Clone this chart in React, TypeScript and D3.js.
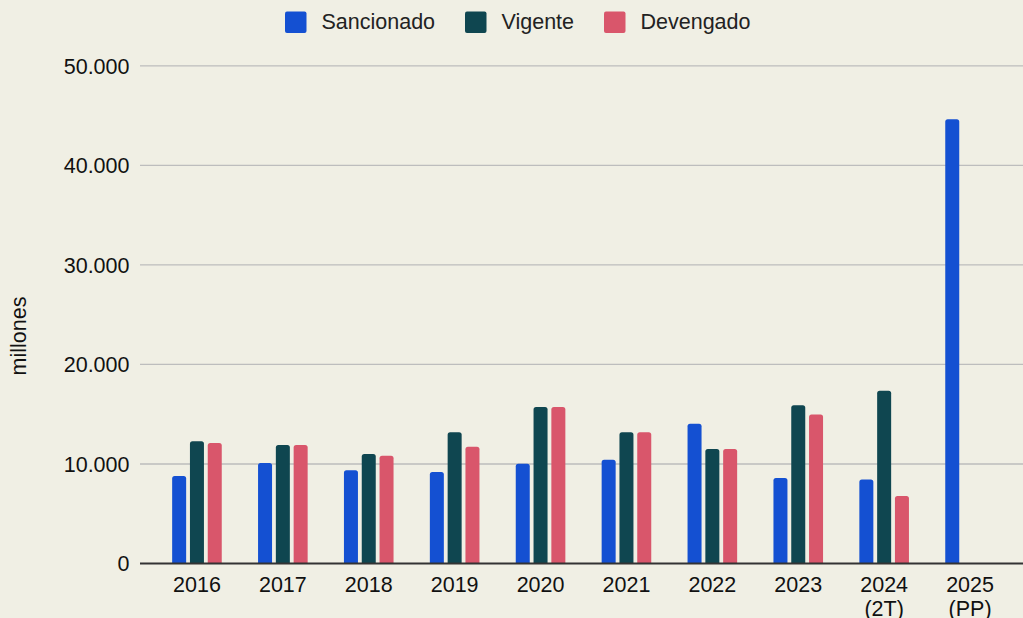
import React from "react";
import * as d3 from "d3";

const categories = ["2016", "2017", "2018", "2019", "2020", "2021", "2022", "2023", "2024\n(2T)", "2025\n(PP)"];
const sancionado = [8800, 10100, 9370, 9190, 10030, 10430, 14050, 8600, 8430, 44630];
const vigente = [12280, 11900, 11000, 13180, 15720, 13180, 11500, 15890, 17360, 0];
const devengado = [12100, 11900, 10830, 11740, 15720, 13180, 11500, 14980, 6790, 0];
const seriesNames = ["Sancionado", "Vigente", "Devengado"];
const seriesColors = ["#1450d2", "#0f4650", "#d9566b"];
const yTicks = [0, 10000, 20000, 30000, 40000, 50000];

const W = 1023;
const H = 618;
const FONT = "'Liberation Sans', Arial, Helvetica, sans-serif";

export default function App() {
  const x = d3.scaleBand<string>().domain(categories).range([154, 1013]);
  const y = d3.scaleLinear().domain([0, 50000]).range([563.5, 65.9]);
  const series = [sancionado, vigente, devengado];
  const barW = 14;
  const step = 17.8;
  const fmt = (v: number) => d3.format(",")(v).replace(/,/g, ".");

  const barPath = (x0: number, y0: number, w: number, h: number) => {
    const r = Math.min(2.5, h / 2, w / 2);
    if (h <= 0) return "";
    return `M${x0},${y0 + h}V${y0 + r}Q${x0},${y0} ${x0 + r},${y0}H${x0 + w - r}Q${x0 + w},${y0} ${x0 + w},${y0 + r}V${y0 + h}Z`;
  };

  const legendItems = [
    { name: seriesNames[0], sq: 285, tx: 321.5 },
    { name: seriesNames[1], sq: 465, tx: 501.5 },
    { name: seriesNames[2], sq: 604, tx: 640.5 },
  ];

  return (
    <div style={{ position: "fixed", left: 0, top: 0 }}>
      <svg width={W} height={H} style={{ display: "block", background: "#f0efe4" }} fontFamily={FONT}>
        <rect x={0} y={0} width={W} height={H} fill="#f0efe4" />
        {/* legend */}
        {legendItems.map((it, i) => (
          <g key={it.name}>
            <rect x={it.sq} y={11.5} width={21.5} height={21.5} rx={2} fill={seriesColors[i]} />
            <text x={it.tx} y={29} fontSize={21.5} fill="#222">{it.name}</text>
          </g>
        ))}
        {/* gridlines */}
        {yTicks.filter((t) => t !== 0).map((t) => (
          <line key={t} x1={140} x2={W} y1={y(t)} y2={y(t)} stroke="#bdbdbd" strokeWidth={1.3} />
        ))}
        {/* y tick labels */}
        {yTicks.map((t) => (
          <text key={t} x={129.5} y={y(t) + 7.7} fontSize={21.5} textAnchor="end" fill="#111">
            {fmt(t)}
          </text>
        ))}
        {/* y axis title */}
        <text
          transform={`translate(26,336) rotate(-90)`}
          fontSize={21.5}
          textAnchor="middle"
          fill="#111"
        >
          millones
        </text>
        {/* bars */}
        {categories.map((c, ci) => {
          const cx = (x(c) as number) + x.bandwidth() / 2;
          return series.map((s, si) => {
            const v = s[ci];
            const bx = cx + (si - 1) * step - barW / 2;
            const by = y(v);
            const h = y(0) - by;
            return <path key={c + si} d={barPath(bx, by, barW, h)} fill={seriesColors[si]} />;
          });
        })}
        {/* baseline */}
        <line x1={140} x2={W} y1={y(0)} y2={y(0)} stroke="#333" strokeWidth={2} />
        {/* x labels */}
        {categories.map((c) => {
          const cx = (x(c) as number) + x.bandwidth() / 2;
          const lines = c.split("\n");
          return (
            <text key={c} x={cx} y={592} fontSize={21.5} textAnchor="middle" fill="#111">
              {lines.map((l, i) => (
                <tspan key={i} x={cx} dy={i === 0 ? 0 : 23.5}>
                  {l}
                </tspan>
              ))}
            </text>
          );
        })}
      </svg>
    </div>
  );
}
